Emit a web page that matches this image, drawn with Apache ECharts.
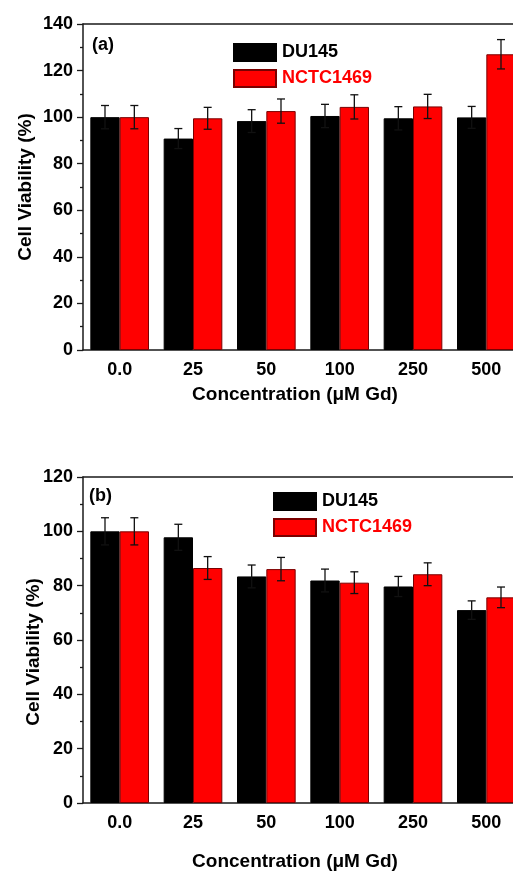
<!DOCTYPE html>
<html>
<head>
<meta charset="utf-8">
<script src="https://cdn.jsdelivr.net/npm/echarts@6/dist/echarts.min.js"></script>
<style>
  html, body { margin: 0; padding: 0; background: #fff; }
  #chart { width: 513px; height: 873px; }
</style>
</head>
<body>
<div id="chart"></div>
<script>
// concentrations (x categories)
const concentrations = ['0.0', '25', '50', '100', '250', '500']

// panel (a)
const du145A = [100, 90.8, 98.3, 100.5, 99.5, 99.9]
const du145AErr = [5.0, 4.3, 4.9, 5.0, 5.0, 4.7]
const nctcA = [100, 99.5, 102.6, 104.4, 104.6, 127.0]
const nctcAErr = [5.0, 4.7, 5.2, 5.2, 5.2, 6.3]

// panel (b)
const du145B = [100, 97.8, 83.4, 81.9, 79.7, 71.0]
const du145BErr = [5.0, 4.8, 4.2, 4.2, 3.7, 3.4]
const nctcB = [100, 86.5, 86.1, 81.1, 84.2, 75.7]
const nctcBErr = [5.0, 4.2, 4.3, 4.0, 4.2, 3.8]

// y axis ranges
const yMaxA = 140
const yMaxB = 120
const yStep = 20

const FONT = 'Liberation Sans, Arial, sans-serif'
const AXIS_COLOR = '#1a1a1a'
const boldText = { fontFamily: FONT, fontWeight: 'bold', fontSize: 18, color: '#000' }
const nameText = { ...boldText, fontSize: 19 }

// four x axes per grid: labelled bottom, bottom boundary ticks, top line, top boundary ticks
const makeXAxes = (gridIndex, nameGap) => [
  {
    type: 'category', gridIndex, position: 'bottom', data: concentrations,
    axisLine: { onZero: false, lineStyle: { color: AXIS_COLOR, width: 1.5 } },
    axisTick: { alignWithLabel: true, length: 6, interval: 0, lineStyle: { color: AXIS_COLOR, width: 1.3 } },
    axisLabel: { ...boldText, margin: 11, interval: 0 },
    name: 'Concentration (μM Gd)', nameLocation: 'middle', nameGap, nameMoveOverlap: false,
    nameTextStyle: { ...nameText, padding: [0, 16, 0, 0] }
  },
  {
    type: 'category', gridIndex, position: 'bottom', data: concentrations,
    axisLine: { show: false, onZero: false },
    axisTick: { length: 3, interval: 0, lineStyle: { color: AXIS_COLOR, width: 1.3 } },
    axisLabel: { show: false }
  },
  {
    type: 'category', gridIndex, position: 'top', data: concentrations,
    axisLine: { onZero: false, lineStyle: { color: AXIS_COLOR, width: 1.5 } },
    axisTick: { alignWithLabel: true, inside: true, length: 7, interval: 0, lineStyle: { color: AXIS_COLOR, width: 1.3 } },
    axisLabel: { show: false }
  },
  {
    type: 'category', gridIndex, position: 'top', data: concentrations,
    axisLine: { show: false, onZero: false },
    axisTick: { inside: true, length: 4, interval: 0, lineStyle: { color: AXIS_COLOR, width: 1.3 } },
    axisLabel: { show: false }
  }
]

const makeYAxis = (gridIndex, max, nameGap, shift) => ({
  type: 'value', gridIndex, min: 0, max, interval: yStep, position: 'left',
  axisLine: { show: true, onZero: false, lineStyle: { color: AXIS_COLOR, width: 1.5 } },
  axisTick: { show: true, length: 6, lineStyle: { color: AXIS_COLOR, width: 1.3 } },
  minorTick: { show: true, splitNumber: 2, length: 3, lineStyle: { color: AXIS_COLOR, width: 1.3 } },
  splitLine: { show: false },
  axisLabel: { ...boldText, margin: 10 },
  name: 'Cell Viability (%)', nameLocation: 'middle', nameGap, nameMoveOverlap: false,
  nameTextStyle: { ...nameText, padding: [0, shift, 0, 0] }
})

const barSeries = (name, data, gridIndex, color, border) => ({
  name, type: 'bar', data,
  xAxisIndex: gridIndex * 4, yAxisIndex: gridIndex,
  barGap: '0%', barCategoryGap: '20%',
  itemStyle: { color, borderColor: border, borderWidth: 1 },
  z: 2
})

// error bars drawn on top of each bar (side -1 = left bar, +1 = right bar)
const errorSeries = (values, errs, gridIndex, side) => ({
  type: 'custom',
  xAxisIndex: gridIndex * 4, yAxisIndex: gridIndex,
  data: values.map((v, i) => [i, v, errs[i]]),
  silent: true, z: 10,
  renderItem: (params, api) => {
    const band = api.size([1, 0])[0]
    const i = api.value(0)
    const mean = api.value(1)
    const err = api.value(2)
    const x = api.coord([i, mean])[0] + side * band * 0.2
    const top = api.coord([i, mean + err])[1]
    const bot = api.coord([i, mean - err])[1]
    const style = { stroke: '#111', lineWidth: 1.3 }
    return {
      type: 'group',
      children: [
        { type: 'line', shape: { x1: x, y1: top, x2: x, y2: bot }, style },
        { type: 'line', shape: { x1: x - 4, y1: top, x2: x + 4, y2: top }, style },
        { type: 'line', shape: { x1: x - 4, y1: bot, x2: x + 4, y2: bot }, style }
      ]
    }
  }
})

const legendData = [
  { name: 'DU145' },
  { name: 'NCTC1469', textStyle: { color: '#ff0000' } }
]
const makeLegend = (left, top) => ({
  orient: 'vertical', left, top, padding: 0,
  icon: 'rect',
  itemWidth: 42, itemHeight: 17, itemGap: 7,
  selectedMode: false,
  textStyle: { ...boldText, padding: [0, 0, 0, 1] },
  data: legendData
})

const chart = echarts.init(document.getElementById('chart'), null, { renderer: 'canvas' })
chart.setOption({
  animation: false,
  backgroundColor: '#fff',
  title: [
    { text: '(a)', left: 92, top: 36, padding: 0, textStyle: boldText },
    { text: '(b)', left: 89, top: 487, padding: 0, textStyle: boldText }
  ],
  legend: [makeLegend(233, 43), makeLegend(273, 492)],
  // plot area runs past the right edge of the page, as in the cropped original
  grid: [
    { left: 83, top: 24, width: 440, height: 326, outerBoundsMode: 'none' },
    { left: 83, top: 477, width: 440, height: 326, outerBoundsMode: 'none' }
  ],
  xAxis: [...makeXAxes(0, 35), ...makeXAxes(1, 49)],
  yAxis: [makeYAxis(0, yMaxA, 48, 0), makeYAxis(1, yMaxB, 40, 24)],
  series: [
    barSeries('DU145', du145A, 0, '#000000', '#000000'),
    barSeries('NCTC1469', nctcA, 0, '#ff0000', '#7a0000'),
    errorSeries(du145A, du145AErr, 0, -1),
    errorSeries(nctcA, nctcAErr, 0, 1),
    barSeries('DU145', du145B, 1, '#000000', '#000000'),
    barSeries('NCTC1469', nctcB, 1, '#ff0000', '#7a0000'),
    errorSeries(du145B, du145BErr, 1, -1),
    errorSeries(nctcB, nctcBErr, 1, 1)
  ]
})
</script>
</body>
</html>
